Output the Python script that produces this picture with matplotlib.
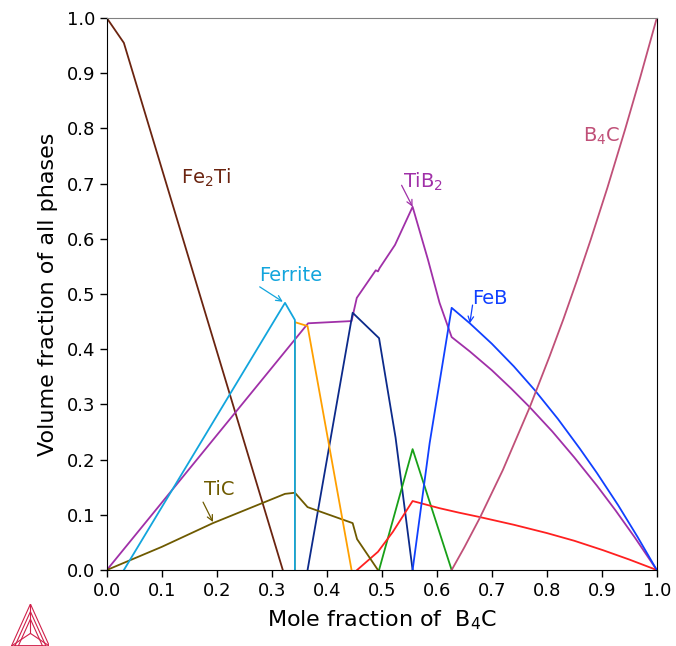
import matplotlib
matplotlib.use("Agg")
import matplotlib.pyplot as plt
from matplotlib.lines import Line2D

# phase curves (x = mole fraction of B4C)
fe2ti_x = [0.0, 0.031, 0.32]
fe2ti_y = [1.0, 0.955, 0.0]

ferrite_x = [0.031, 0.324, 0.342, 0.342]
ferrite_y = [0.0, 0.484, 0.453, 0.0]

orange_x = [0.342, 0.342, 0.365, 0.445]
orange_y = [0.0, 0.449, 0.442, 0.0]

tib2_x = [0.0, 0.366, 0.445, 0.4545, 0.489, 0.493, 0.496, 0.524, 0.556,
          0.584, 0.605, 0.627, 0.66, 0.70, 0.735, 0.769, 0.81, 0.85,
          0.891, 0.925, 0.96, 1.0]
tib2_y = [0.0, 0.447, 0.451, 0.493, 0.543, 0.541, 0.547, 0.589, 0.658,
          0.562, 0.484, 0.422, 0.396, 0.362, 0.329, 0.295, 0.251, 0.204,
          0.153, 0.108, 0.059, 0.0]

navy_x = [0.365, 0.447, 0.495, 0.525, 0.556]
navy_y = [0.0, 0.466, 0.42, 0.24, 0.0]

green_x = [0.495, 0.556, 0.627]
green_y = [0.0, 0.219, 0.0]

red_x = [0.455, 0.493, 0.52, 0.556, 0.605, 0.64, 0.678, 0.74, 0.8, 0.85,
         0.902, 0.95, 1.0]
red_y = [0.0, 0.033, 0.069, 0.125, 0.112, 0.104, 0.096, 0.082, 0.067, 0.053,
         0.036, 0.019, 0.0]

feb_x = [0.556, 0.587, 0.627, 0.66, 0.70, 0.74, 0.778, 0.82, 0.86, 0.891,
         0.93, 0.965, 1.0]
feb_y = [0.0, 0.23, 0.475, 0.447, 0.41, 0.369, 0.326, 0.274, 0.22, 0.176,
         0.117, 0.06, 0.0]

b4c_x = [0.627, 0.65, 0.678, 0.72, 0.769, 0.805, 0.83, 0.855, 0.88, 0.91,
         0.942, 0.97, 1.0]
b4c_y = [0.0, 0.041, 0.094, 0.181, 0.295, 0.387, 0.454, 0.525, 0.599, 0.692,
         0.797, 0.893, 1.0]

tic_x = [0.0, 0.1, 0.193, 0.324, 0.342, 0.365, 0.447, 0.455, 0.493]
tic_y = [0.0, 0.042, 0.085, 0.138, 0.14, 0.114, 0.085, 0.056, 0.0]

ticks = [round(0.1 * i, 1) for i in range(11)]

c_fe2ti = "#6b2410"
c_ferrite = "#12a5dd"
c_orange = "#ffa000"
c_tib2 = "#a030a8"
c_navy = "#0c2a8a"
c_green = "#18a018"
c_red = "#ff2020"
c_feb = "#1040ff"
c_b4c = "#c05078"
c_tic = "#6e5a00"

fig = plt.figure(figsize=(6.76, 6.46), dpi=100)
ax = fig.add_axes([0.158, 0.1176, 0.8136, 0.8545])

lw = 1.3
ax.plot(fe2ti_x, fe2ti_y, color=c_fe2ti, lw=lw)
ax.plot(tib2_x, tib2_y, color=c_tib2, lw=lw)
ax.plot(navy_x, navy_y, color=c_navy, lw=lw)
ax.plot(green_x, green_y, color=c_green, lw=lw)
ax.plot(red_x, red_y, color=c_red, lw=lw)
ax.plot(feb_x, feb_y, color=c_feb, lw=lw)
ax.plot(b4c_x, b4c_y, color=c_b4c, lw=lw)
ax.plot(tic_x, tic_y, color=c_tic, lw=lw)
ax.plot(orange_x, orange_y, color=c_orange, lw=lw)
ax.plot(ferrite_x, ferrite_y, color=c_ferrite, lw=lw)

fs = 14


def label(txt, pos, color, arrow=None):
    ax.text(pos[0], pos[1], txt, color=color, fontsize=fs, ha="left", va="center")
    if arrow:
        ax.annotate("", xy=arrow[1], xytext=arrow[0],
                    arrowprops=dict(arrowstyle="->", color=color, lw=0.9,
                                    shrinkA=0, shrinkB=0))


label("Fe$_2$Ti", (0.135, 0.71), c_fe2ti)
label("B$_4$C", (0.865, 0.785), c_b4c)
label("TiB$_2$", (0.538, 0.704), c_tib2, ((0.536, 0.697), (0.556, 0.658)))
label("Ferrite", (0.277, 0.533), c_ferrite, ((0.278, 0.513), (0.32, 0.486)))
label("FeB", (0.665, 0.492), c_feb, ((0.665, 0.48), (0.66, 0.447)))
label("TiC", (0.176, 0.145), c_tic, ((0.175, 0.123), (0.193, 0.087)))

ax.set_xlim(0, 1)
ax.set_ylim(0, 1)
ax.set_xticks(ticks)
ax.set_yticks(ticks)
ax.set_xticklabels([f"{t:.1f}" for t in ticks])
ax.set_yticklabels([f"{t:.1f}" for t in ticks])
ax.tick_params(direction="out", length=5, width=1, labelsize=13, colors="black")
ax.spines["top"].set_color("#808080")
ax.set_xlabel("Mole fraction of  B$_4$C", fontsize=16, labelpad=6)
ax.set_ylabel("Volume fraction of all phases", fontsize=16, labelpad=6)

# small triangle logo in the lower-left corner
logo = fig.add_axes([0.017, 0.0, 0.056, 0.065])
logo.set_xlim(0, 1)
logo.set_ylim(0, 1)
logo.axis("off")
lc = "#d0204a"
cen = (0.5, 0.3)
for s in [1.0, 0.82, 0.64]:
    tri_x = [0.5 - 0.5 * s, 0.5 + 0.5 * s, 0.5, 0.5 - 0.5 * s]
    tri_y = [0.0, 0.0, s, 0.0]
    logo.add_line(Line2D(tri_x, tri_y, color=lc, lw=0.8))
for vx, vy in [(0.0, 0.0), (1.0, 0.0), (0.5, 1.0)]:
    logo.add_line(Line2D([vx, cen[0]], [vy, cen[1]], color=lc, lw=0.8))

fig.savefig("out.png", dpi=100)
